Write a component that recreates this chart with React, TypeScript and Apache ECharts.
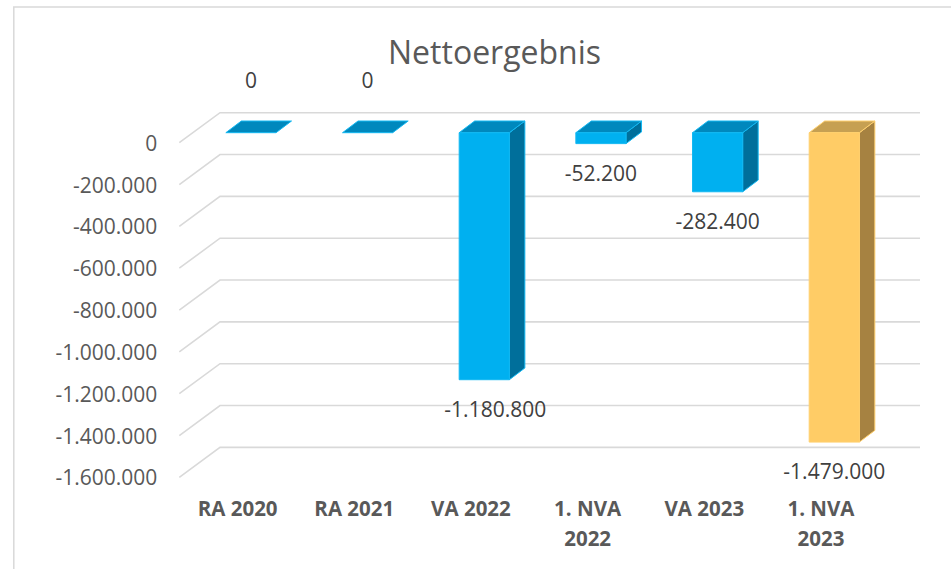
import React, { useEffect, useRef } from "react";
import * as echarts from "echarts";

// ---- data ----
const chartTitle = "Nettoergebnis";
const categories = ["RA 2020", "RA 2021", "VA 2022", "1. NVA 2022", "VA 2023", "1. NVA 2023"];
const values = [0, 0, -1180800, -52200, -282400, -1479000];
const colorGroup = [0, 0, 0, 0, 0, 1]; // 0 = blue, 1 = yellow
const yTicks = [0, -200000, -400000, -600000, -800000, -1000000, -1200000, -1400000, -1600000];

// ---- style ----
const FONT = "'Open Sans', 'Noto Sans', sans-serif";
const DEPTH_X = 40.7; // wall depth offset
const DEPTH_Y = -30;
const FACE_DX = 13.3; // bar front plane offset from the floor front
const FACE_DY = -10;
const BAR_DX = 15.5; // bar depth
const BAR_DY = -11.7;
const palettes = [
  { front: "#00B0F0", top: "#0088BD", side: "#006F9B", edge: "#12B8F2" },
  { front: "#FFCC66", top: "#C6A052", side: "#A68241", edge: "#FFD06E" },
];
const labelShiftX: Record<number, number> = { 2: 11 };

function fmt(v: number): string {
  const s = Math.round(Math.abs(v)).toString().replace(/\B(?=(\d{3})+(?!\d))/g, ".");
  return (v < 0 ? "-" : "") + s;
}

export default function App() {
  const ref = useRef<HTMLDivElement>(null);

  useEffect(() => {
    if (!ref.current) return;
    const chart = echarts.init(ref.current, undefined, { renderer: "svg" });

    const gridSeries = {
      type: "custom",
      z: 1,
      silent: true,
      data: yTicks.map((t) => [0, t]),
      encode: { x: 0, y: 1 },
      renderItem: (params: any, api: any) => {
        const cs = params.coordSys;
        const y = api.coord([0, api.value(1)])[1];
        const left = cs.x;
        const right = cs.x + cs.width;
        return {
          type: "polyline",
          shape: {
            points: [
              [left, y],
              [left + DEPTH_X, y + DEPTH_Y],
              [right + DEPTH_X, y + DEPTH_Y],
            ],
          },
          style: { stroke: "#D9D9D9", lineWidth: 1.6, fill: null },
        };
      },
    };

    const barSeries = {
      type: "custom",
      z: 5,
      data: values.map((v, i) => [i, v]),
      encode: { x: 0, y: 1 },
      renderItem: (params: any, api: any) => {
        const i = api.value(0);
        const v = api.value(1);
        const base = api.coord([i, 0]);
        const end = api.coord([i, v]);
        const band = api.size([1, 0])[0];
        const w = band * 0.43;
        const cx = base[0] + FACE_DX;
        const yTop = base[1] + FACE_DY;
        const yBot = end[1] + FACE_DY;
        const xl = cx - w / 2;
        const xr = cx + w / 2;
        const p = palettes[colorGroup[i]];
        const children: any[] = [];
        if (yBot - yTop > 0.5) {
          children.push({
            type: "polygon",
            shape: {
              points: [
                [xr, yTop],
                [xr + BAR_DX, yTop + BAR_DY],
                [xr + BAR_DX, yBot + BAR_DY],
                [xr, yBot],
              ],
            },
            style: { fill: p.side, stroke: p.edge, lineWidth: 1 },
          });
        }
        children.push({
          type: "polygon",
          shape: {
            points: [
              [xl, yTop],
              [xr, yTop],
              [xr + BAR_DX, yTop + BAR_DY],
              [xl + BAR_DX, yTop + BAR_DY],
            ],
          },
          style: { fill: p.top, stroke: p.edge, lineWidth: 1 },
        });
        if (yBot - yTop > 0.5) {
          children.push({
            type: "rect",
            shape: { x: xl, y: yTop, width: w, height: yBot - yTop },
            style: { fill: p.front, stroke: p.edge, lineWidth: 1 },
          });
        }
        const ly = v < 0 ? yBot + 29 : yTop - 52.7;
        children.push({
          type: "text",
          x: cx + (labelShiftX[i] || 0),
          y: ly,
          style: {
            text: fmt(v),
            fill: "#404040",
            font: `21px ${FONT}`,
            align: "center",
            verticalAlign: "middle",
          },
        });
        return { type: "group", children };
      },
    };

    chart.setOption({
      animation: false,
      backgroundColor: "#ffffff",
      title: {
        text: chartTitle,
        left: 388,
        top: 35,
        padding: 0,
        textStyle: { fontFamily: FONT, fontSize: 32, fontWeight: "normal", color: "#595959" },
      },
      graphic: [
        {
          type: "polyline",
          shape: { points: [[13.8, 569], [13.8, 7], [951, 7]] },
          style: { stroke: "#D9D9D9", lineWidth: 1.5, fill: null },
          silent: true,
        },
      ],
      grid: { left: 179.3, top: 142.7, width: 700, height: 334.7, containLabel: false },
      xAxis: {
        type: "category",
        data: categories,
        axisLine: { show: false },
        axisTick: { show: false },
        splitLine: { show: false },
        axisLabel: {
          interval: 0,
          margin: 15.6,
          fontFamily: FONT,
          fontSize: 20.5,
          fontWeight: "bold",
          lineHeight: 30,
          color: "#595959",
          formatter: (s: string) => s.replace("NVA ", "NVA\n"),
        },
      },
      yAxis: {
        type: "value",
        min: -1600000,
        max: 0,
        interval: 200000,
        axisLine: { show: false },
        axisTick: { show: false },
        splitLine: { show: false },
        axisLabel: {
          margin: 22,
          fontFamily: FONT,
          fontSize: 21,
          color: "#595959",
          formatter: (v: number) => fmt(v),
        },
      },
      series: [gridSeries, barSeries],
    });

    return () => chart.dispose();
  }, []);

  return (
    <div
      ref={ref}
      style={{ position: "fixed", left: 0, top: 0, width: 951, height: 569 }}
    />
  );
}
